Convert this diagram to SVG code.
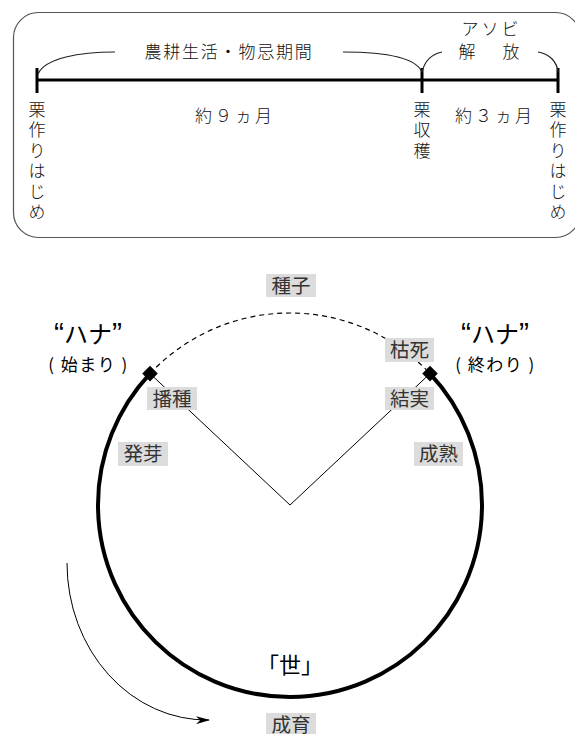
<svg xmlns="http://www.w3.org/2000/svg" width="575" height="734" viewBox="0 0 575 734">
<defs>
<style>
.jp{font-family:"Noto Sans CJK JP","Noto Sans CJK SC",sans-serif;}
.top{font-size:17px;fill:#111;font-weight:300;}
.vert{writing-mode:vertical-rl;letter-spacing:3.5px;}
.lbl{font-size:19.5px;fill:#333;text-anchor:middle;}
.bg{fill:#dcdcdc;}
.thin{fill:none;stroke:#000;stroke-width:1;}
.tl{fill:none;stroke:#000;stroke-width:3;}
.brace{fill:none;stroke:#222;stroke-width:1.2;}
.big{font-size:24px;fill:#000;text-anchor:middle;}
.q{font-family:"Liberation Sans",sans-serif;font-size:30px;}
.sub{font-size:17px;fill:#000;text-anchor:middle;}
</style>
<marker id="ah" viewBox="0 0 14 8" refX="13" refY="4" markerWidth="14" markerHeight="8" markerUnits="userSpaceOnUse" orient="auto">
<path d="M0,0 L14,4 L0,8 L4,4 Z" fill="#000"/>
</marker>
</defs>
<rect width="575" height="734" fill="#fff"/>

<g id="timeline">
<rect x="13.5" y="12.5" width="567" height="225" rx="25" ry="25" fill="none" stroke="#555" stroke-width="1.2"/>
<path class="tl" d="M37,80 H558 M37,68 V93 M422,68 V93 M558,68 V93"/>
<path class="brace" d="M38,74 C45,58 80,52 115,52 M343,52 C380,52 415,56 422,72 M422,72 C425,60 432,54 442,52 M538,52 C550,54 557,62 558,72"/>
<text class="jp top" x="229" y="58" text-anchor="middle" font-size="18" letter-spacing="1.8">農耕生活・物忌期間</text>
<text class="jp top" y="35" text-anchor="middle"><tspan x="470">ア</tspan><tspan x="490">ソ</tspan><tspan x="510">ビ</tspan></text>
<text class="jp top" y="58" text-anchor="middle" font-size="18"><tspan x="467">解</tspan><tspan x="511">放</tspan></text>
<text class="jp top" x="195" y="122" font-size="14" letter-spacing="3">約９ヵ月</text>
<text class="jp top" x="455" y="122" font-size="14" letter-spacing="3">約３ヵ月</text>
<text class="jp top vert" x="37" y="101">栗作りはじめ</text>
<text class="jp top vert" x="422" y="101">栗収穫</text>
<text class="jp top vert" x="558" y="101">栗作りはじめ</text>
</g>

<g id="connectors">
<path d="M150,373.6 A192,192 0 1 0 430,373.6" fill="none" stroke="#000" stroke-width="4"/>
<path d="M150,373.6 A192,192 0 0 1 430,373.6" fill="none" stroke="#000" stroke-width="1.2" stroke-dasharray="5,4"/>
<path class="thin" d="M150,373.6 L290,505 L430,373.6"/>
<path class="thin" d="M67,563 A140,157 0 0 0 209,720" marker-end="url(#ah)"/>
</g>

<g id="diamond-start"><rect x="144.5" y="368.1" width="11" height="11" transform="rotate(45 150 373.6)" fill="#000"/></g>
<g id="diamond-end"><rect x="424.5" y="368.1" width="11" height="11" transform="rotate(45 430 373.6)" fill="#000"/></g>

<g id="n-shushi"><rect class="bg" x="266" y="274" width="50" height="23"/><text class="jp lbl" x="291" y="292.5">種子</text></g>
<g id="n-koshi"><rect class="bg" x="385" y="338" width="49" height="24"/><text class="jp lbl" x="409.5" y="357">枯死</text></g>
<g id="n-ketsujitsu"><rect class="bg" x="385" y="387" width="49" height="23"/><text class="jp lbl" x="409.5" y="405.5">結実</text></g>
<g id="n-hashu"><rect class="bg" x="147" y="387" width="50" height="23"/><text class="jp lbl" x="172" y="405.5">播種</text></g>
<g id="n-hatsuga"><rect class="bg" x="118" y="442" width="50" height="24"/><text class="jp lbl" x="143" y="461">発芽</text></g>
<g id="n-seijuku"><rect class="bg" x="414" y="442" width="49" height="24"/><text class="jp lbl" x="438.5" y="461">成熟</text></g>
<g id="n-seiiku"><rect class="bg" x="266" y="713" width="50" height="23"/><text class="jp lbl" x="291" y="731.5">成育</text></g>

<g id="hana-start">
<text class="big" x="88" y="343"><tspan class="q">“</tspan><tspan class="jp">ハナ</tspan><tspan class="q">”</tspan></text>
<text class="jp sub" x="88.5" y="371" letter-spacing="1.5">( 始まり )</text>
</g>
<g id="hana-end">
<text class="big" x="495" y="343"><tspan class="q">“</tspan><tspan class="jp">ハナ</tspan><tspan class="q">”</tspan></text>
<text class="jp sub" x="495.5" y="371" letter-spacing="1.5">( 終わり )</text>
</g>
<g id="yo"><text class="jp" x="290" y="673" font-size="22" text-anchor="middle" fill="#000">「世」</text></g>
</svg>
